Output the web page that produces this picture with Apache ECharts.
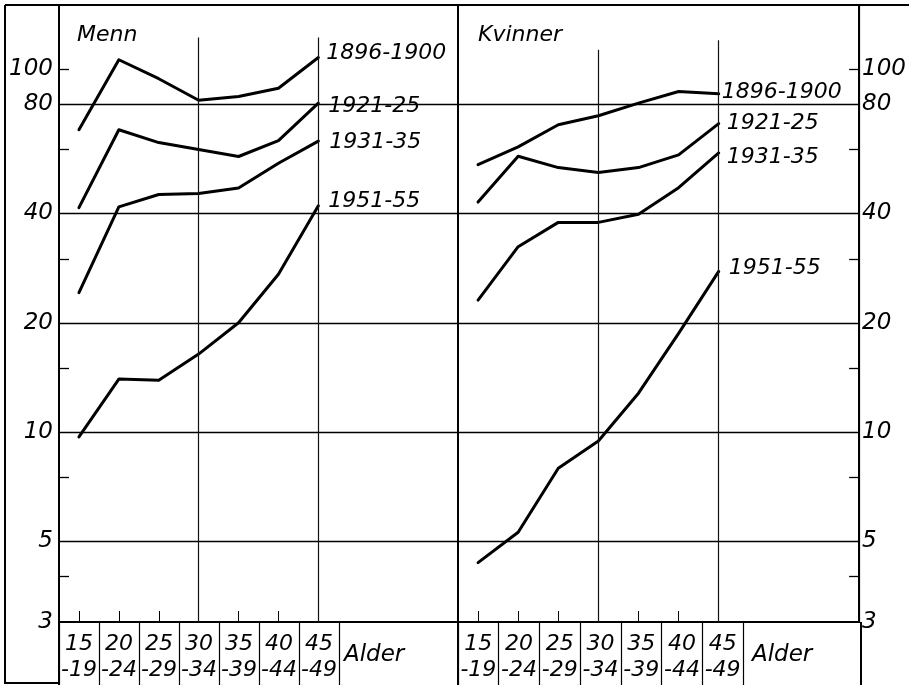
<!DOCTYPE html>
<html><head><meta charset="utf-8">
<script src="https://cdn.jsdelivr.net/npm/echarts@6/dist/echarts.min.js"></script>
<style>html,body{margin:0;padding:0;background:#fff}#c{width:909px;height:685px}</style>
</head><body><div id="c"></div>
<script>
// ---- data (log scale, per 1000) ----
const ageGroups = ['15-19','20-24','25-29','30-34','35-39','40-44','45-49'];
const seriesNames = ['1896-1900','1921-25','1931-35','1951-55'];
const menn1896 = [68, 106, 94, 82, 84, 88.5, 107.5];
const menn1921 = [41.5, 68, 62.7, 60, 57.4, 63.5, 80.5];
const menn1931 = [24.2, 41.7, 45.1, 45.4, 47, 55, 63.3];
const menn1951 = [9.7, 14.0, 13.9, 16.4, 20, 27.2, 42];
const kvinner1896 = [54.5, 61, 70.2, 74.3, 80.5, 86.7, 85.4];
const kvinner1921 = [43, 57.5, 53.5, 51.9, 53.5, 58, 70.7];
const kvinner1931 = [23.1, 32.4, 37.8, 37.8, 39.8, 47.1, 58.7];
const kvinner1951 = [4.37, 5.3, 7.95, 9.45, 12.8, 18.7, 27.7];
const yLabelValues = [3, 5, 10, 20, 40, 80, 100];
const yGridValues = [5, 10, 20, 40, 80];
const yMinorTicks = [4, 7.5, 15, 30, 60, 100];
const padSlots = ['_a', '_b', '_c'];
const panelTitles = ['Menn', 'Kvinner'];
const axisName = 'Alder';

const FONT = 'DejaVu Sans';
const txt = {color:'#000', fontSize:22, fontStyle:'italic', fontWeight:'normal', fontFamily:FONT};
const txtBig = Object.assign({}, txt, {fontSize:23});
const black = '#000';

function mainX(gi){
  return {type:'category', gridIndex:gi, data: ageGroups.concat(padSlots), boundaryGap:true,
    axisLine:{show:true, lineStyle:{color:black, width:2}},
    axisTick:{show:true, inside:true, alignWithLabel:true, length:11,
      interval:(i)=> i < ageGroups.length, lineStyle:{color:black, width:1}},
    axisLabel:{show:false}, splitLine:{show:false}};
}
function stripX(gi){
  return {type:'category', gridIndex:gi, data: ageGroups, boundaryGap:true, position:'top',
    axisLine:{show:false}, axisTick:{show:false},
    splitLine:{show:true, interval:0, lineStyle:{color:black, width:1.2}},
    axisLabel:Object.assign({inside:true, interval:0, margin:9, lineHeight:26,
      formatter:(v)=> v.replace('-', '\n-')}, txt)};
}
function logY(gi, pos, main){
  const base = {type:'log', logBase:10, min:3, max:150, gridIndex:gi, position:pos};
  if (main) {
    return Object.assign(base, {
      axisLine:{show:true, lineStyle:{color:black, width:2}},
      axisTick:{show:false, customValues: yGridValues},
      axisLabel:Object.assign({customValues: yLabelValues, margin: pos==='left'?6:3}, txtBig),
      splitLine:{show:true, lineStyle:{color:black, width:1.3}}
    });
  }
  return Object.assign(base, {
    axisLine:{show:false}, axisLabel:{show:false}, splitLine:{show:false},
    axisTick:{show:true, inside:true, length:10, customValues: yMinorTicks, lineStyle:{color:black, width:1.3}}
  });
}
function line(name, data, gi, off, guides){
  const s = {type:'line', name, data, xAxisIndex:gi, yAxisIndex:gi*2, symbol:'none', silent:true,
    lineStyle:{color:black, width:3, join:'round', cap:'round'}, itemStyle:{color:black},
    endLabel:Object.assign({show:true, formatter:'{a}', distance:8, offset:off}, txt)};
  if (guides) {
    s.markLine = {silent:true, symbol:['none','none'], label:{show:false},
      lineStyle:{color:'#111', width:1.2, type:'solid'},
      data: guides.map(g => [{coord:[g[0], 3]}, {coord:[g[0], g[1]]}])};
  }
  return s;
}

const chart = echarts.init(document.getElementById('c'), null, {renderer:'canvas'});
chart.setOption({
  animation:false,
  backgroundColor:'#fff',
  title:[
    {text:panelTitles[0], left:77, top:24, padding:0, textStyle:txt},
    {text:panelTitles[1], left:478, top:24, padding:0, textStyle:txt},
    {text:axisName, left:344, top:644, padding:0, textStyle:txtBig},
    {text:axisName, left:752, top:644, padding:0, textStyle:txtBig}
  ],
  grid:[
    {left:59, top:5, width:399, height:617, show:true, borderColor:black, borderWidth:2, backgroundColor:'transparent'},
    {left:458, top:5, width:403, height:617, show:true, borderColor:black, borderWidth:2, backgroundColor:'transparent'},
    {left:59, top:622, width:280, height:63},
    {left:458, top:622, width:285, height:63}
  ],
  xAxis:[mainX(0), mainX(1), stripX(2), stripX(3)],
  yAxis:[logY(0,'left',true), logY(0,'left',false), logY(1,'right',true), logY(1,'right',false),
    {type:'value', gridIndex:2, show:false}, {type:'value', gridIndex:3, show:false}],
  series:[
    line(seriesNames[0], menn1896, 0, [0,-4]),
    line(seriesNames[1], menn1921, 0, [2,3]),
    line(seriesNames[2], menn1931, 0, [3,1]),
    line(seriesNames[3], menn1951, 0, [2,-4], [['30-34',122],['45-49',122]]),
    line(seriesNames[0], kvinner1896, 1, [-5,-2]),
    line(seriesNames[1], kvinner1921, 1, [0,0]),
    line(seriesNames[2], kvinner1931, 1, [0,4]),
    line(seriesNames[3], kvinner1951, 1, [2,-3], [['30-34',113],['45-49',120]])
  ],
  graphic:[
    {type:'line', silent:true, shape:{x1:5,y1:5,x2:909,y2:5}, style:{stroke:black, lineWidth:2}},
    {type:'line', silent:true, shape:{x1:5,y1:5,x2:5,y2:684}, style:{stroke:black, lineWidth:2}},
    {type:'line', silent:true, shape:{x1:5,y1:683,x2:59,y2:683}, style:{stroke:black, lineWidth:2}},
    {type:'line', silent:true, shape:{x1:59,y1:622,x2:59,y2:685}, style:{stroke:black, lineWidth:2}},
    {type:'line', silent:true, shape:{x1:458,y1:622,x2:458,y2:685}, style:{stroke:black, lineWidth:2}},
    {type:'line', silent:true, shape:{x1:861,y1:622,x2:861,y2:685}, style:{stroke:black, lineWidth:2}}
  ]
});
</script></body></html>
